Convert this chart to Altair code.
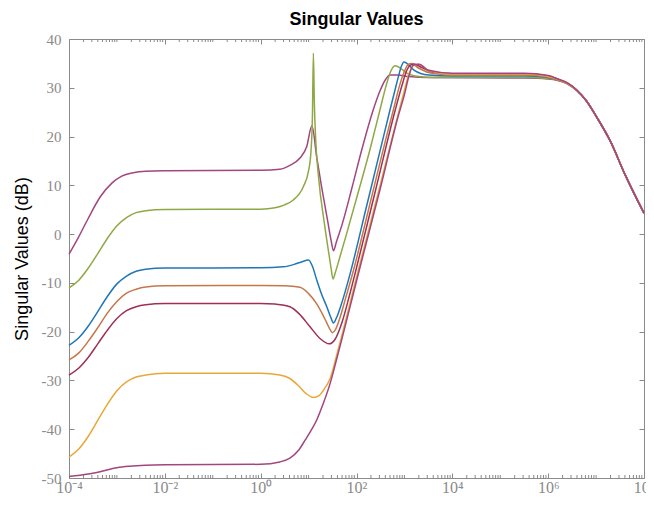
import altair as alt
import pandas as pd

A_lx = [-4.0, -3.8, -3.6, -3.35, -3.1, -2.9, -2.66, -2.4, -2.0, 0.0, 0.4, 0.61, 0.82, 0.96, 1.07,
        1.17, 1.27, 1.40, 1.47, 1.52, 1.58, 1.70, 1.90, 2.11, 2.35, 2.50, 2.60, 2.70, 2.85, 3.10,
        3.50, 5.50, 6.0, 6.2, 6.4, 6.6, 6.8, 7.0, 7.3, 7.6, 8.0]
A_db = [-4.1, -0.6, 3.2, 7.6, 10.5, 11.9, 12.6, 12.9, 13.0, 13.1, 13.3, 14.1, 15.6, 17.9, 22.2,
        15.8, 9.8, 2.6, -1.3, -3.4, -1.6, 2.0, 9.3, 17.3, 25.5, 29.6, 31.6, 32.6, 32.6, 32.3,
        32.1, 32.0, 31.8, 31.5, 30.8, 29.4, 27.3, 24.2, 19.0, 12.3, 4.3]

B_lx = [-4.0, -3.8, -3.6, -3.4, -3.2, -3.0, -2.8, -2.6, -2.4, -2.0, 0.0, 0.3, 0.5, 0.68, 0.89,
        1.0, 1.05, 1.08, 1.10, 1.12, 1.15, 1.20, 1.34, 1.42, 1.47, 1.51, 1.56, 1.65, 1.80, 2.0,
        2.28, 2.49, 2.62, 2.72, 2.81, 2.92, 3.05, 3.3, 3.6, 5.5, 6.0, 6.2, 6.4, 6.6, 6.8, 7.0,
        7.3, 7.6, 8.0]
B_db = [-11.0, -9.5, -7.0, -4.0, -0.9, 1.7, 3.4, 4.4, 4.8, 5.05, 5.1, 5.4, 6.0, 7.0, 9.7,
        13.0, 17.0, 24.0, 37.1, 27.0, 19.0, 12.5, 1.5, -3.8, -7.0, -9.2, -7.8, -4.8, 0.3, 7.3,
        17.3, 25.5, 30.5, 33.5, 34.5, 34.0, 33.0, 32.3, 32.1, 32.1, 31.9, 31.6, 30.8, 29.4, 27.3,
        24.2, 19.0, 12.3, 4.3]

C_lx = [-4.0, -3.8, -3.6, -3.4, -3.2, -3.0, -2.8, -2.6, -2.4, -2.0, 0.0, 0.47, 0.7, 0.85, 1.0,
        1.08, 1.17, 1.27, 1.38, 1.46, 1.52, 1.58, 1.68, 1.87, 2.2, 2.49, 2.70, 2.80, 2.88, 2.94,
        2.99, 3.05, 3.2, 3.5, 4.0, 5.5, 6.0, 6.2, 6.4, 6.6, 6.8, 7.0, 7.3, 7.6, 8.0]
C_db = [-22.8, -21.3, -18.9, -15.9, -12.8, -10.2, -8.6, -7.6, -7.2, -6.95, -6.9, -6.7, -6.2, -5.7, -5.3,
        -6.6, -9.4, -12.3, -14.9, -17.0, -18.2, -17.2, -14.5, -8.0, 5.3, 17.0, 25.5, 29.4, 32.5, 34.5,
        35.3, 35.0, 33.6, 32.6, 32.4, 32.4, 32.1, 31.7, 30.9, 29.5, 27.3, 24.2, 19.0, 12.3, 4.3]

D_lx = [-4.0, -3.8, -3.6, -3.4, -3.2, -3.0, -2.8, -2.6, -2.4, -2.0, 0.0, 0.5, 0.82, 1.0, 1.17,
        1.30, 1.38, 1.45, 1.50, 1.56, 1.65, 1.78, 1.94, 2.3, 2.6, 2.77, 2.9, 3.0, 3.08, 3.15,
        3.3, 3.6, 4.0, 5.5, 6.0, 6.2, 6.4, 6.6, 6.8, 7.0, 7.3, 7.6, 8.0]
D_db = [-25.8, -24.4, -22.0, -19.2, -16.2, -13.8, -12.1, -11.3, -10.85, -10.6, -10.55, -10.6, -10.9, -12.2, -14.3,
        -16.6, -18.2, -19.6, -20.2, -19.6, -17.3, -12.9, -7.3, 7.0, 19.0, 25.5, 30.5, 33.4, 34.8, 35.0,
        34.0, 32.9, 32.6, 32.6, 32.2, 31.7, 30.9, 29.5, 27.3, 24.2, 19.0, 12.3, 4.3]

E_lx = [-4.0, -3.8, -3.6, -3.4, -3.2, -3.0, -2.8, -2.6, -2.4, -2.0, 0.0, 0.3, 0.61, 0.8, 1.03,
        1.25, 1.43, 1.55, 1.7, 1.85, 1.99, 2.4, 2.81, 2.95, 3.05, 3.12, 3.2, 3.35, 3.6, 4.0,
        5.5, 6.0, 6.2, 6.4, 6.6, 6.8, 7.0, 7.3, 7.6, 8.0]
E_db = [-28.9, -27.5, -25.3, -22.5, -19.7, -17.3, -15.7, -14.9, -14.5, -14.25, -14.2, -14.35, -14.9, -16.3, -19.0,
        -21.5, -22.5, -21.6, -18.0, -12.7, -7.3, 9.1, 25.5, 30.5, 33.6, 34.6, 34.9, 34.2, 33.2, 32.9,
        32.9, 32.4, 31.8, 31.0, 29.5, 27.3, 24.2, 19.0, 12.3, 4.3]

F_lx = [-4.0, -3.8, -3.6, -3.4, -3.2, -3.0, -2.8, -2.6, -2.4, -2.0, 0.0, 0.4, 0.61, 0.8, 0.95,
        1.10, 1.22, 1.31, 1.45, 1.6, 2.04, 2.5, 2.88, 3.0, 3.1, 3.2, 3.3, 3.5, 4.0, 5.5,
        6.0, 6.2, 6.4, 6.6, 6.8, 7.0, 7.3, 7.6, 8.0]
F_db = [-45.7, -44.1, -41.5, -38.2, -34.9, -32.1, -30.3, -29.3, -28.9, -28.55, -28.5, -28.9, -29.6, -31.2, -32.7,
        -33.5, -33.1, -32.0, -29.6, -24.3, -7.3, 10.3, 25.0, 29.5, 33.0, 34.6, 34.8, 33.6, 32.8, 32.8,
        32.3, 31.7, 30.9, 29.5, 27.3, 24.2, 19.0, 12.3, 4.3]

G_lx = [-4.0, -3.6, -3.35, -3.0, -2.73, -2.4, -2.0, 0.0, 0.4, 0.61, 0.8, 0.93, 1.05, 1.17, 1.3,
        1.45, 1.6, 2.06, 2.5, 2.86, 3.0, 3.1, 3.18, 3.3, 3.5, 4.0, 5.5, 6.0, 6.2, 6.4,
        6.6, 6.8, 7.0, 7.3, 7.6, 8.0]
G_db = [-49.7, -49.2, -48.7, -47.9, -47.6, -47.4, -47.3, -47.2, -46.7, -45.9, -44.2, -42.2, -40.3, -38.1, -34.9,
        -30.6, -25.1, -7.3, 9.5, 23.8, 28.6, 32.6, 34.6, 34.8, 33.6, 33.0, 33.0, 32.5, 31.8, 31.0,
        29.5, 27.3, 24.2, 19.0, 12.3, 4.3]

curve_names = ["A", "B", "C", "D", "E", "F", "G"]
curve_colors = ["#a2467f", "#8fa845", "#1f77b8", "#c4784a", "#9e2f55", "#e8a838", "#a2467f"]
curve_data = [(A_lx, A_db), (B_lx, B_db), (C_lx, C_db), (D_lx, D_db),
              (E_lx, E_db), (F_lx, F_db), (G_lx, G_db)]

major_x = [1e-4, 1e-2, 1e0, 1e2, 1e4, 1e6, 1e8]
y_ticks = [-50, -40, -30, -20, -10, 0, 10, 20, 30, 40]

rows = []
for name, (lx, db) in zip(curve_names, curve_data):
    for e, v in zip(lx, db):
        rows.append({"curve": name, "freq": 10 ** e, "db": v})
df = pd.DataFrame(rows)

minor = []
for k in range(-4, 8):
    if k % 2 != 0:
        minor.append(10.0 ** k)
    for m in range(2, 10):
        minor.append(m * 10.0 ** k)
minor_df = pd.DataFrame({"v": minor})

W, H = 575, 439
gray = "#8a8a8a"
xs = alt.Scale(type="log", domain=[1e-4, 1e8], nice=False)
ys = alt.Scale(domain=[-50, 40], nice=False, zero=False)

sup = "['⁰','¹','²','³','⁴','⁵','⁶','⁷','⁸','⁹']"
label_expr = ("'10' + (datum.value < 1 ? '⁻' : '') + " + sup +
              "[abs(round(log(datum.value) / LN10))]")

lines = alt.Chart(df).mark_line(strokeWidth=1.5, interpolate="monotone").encode(
    x=alt.X("freq:Q", scale=xs, axis=alt.Axis(
        orient="bottom", values=major_x, offset=-5, domain=False, grid=False,
        tickSize=5, tickColor=gray, labelExpr=label_expr, labelFont="Liberation Serif",
        labelFontSize=16, labelColor=gray, labelPadding=1, labelFlush=False,
        labelOverlap=False, title=None)),
    y=alt.Y("db:Q", scale=ys, axis=alt.Axis(
        orient="left", values=y_ticks, offset=-5, domain=False, grid=False,
        tickSize=5, tickColor=gray, labelExpr="toString(datum.value)",
        labelFont="Liberation Serif", labelFontSize=15, labelColor=gray,
        labelPadding=8, labelOverlap=False, title="Singular Values (dB)",
        titleFont="Liberation Sans", titleFontSize=18, titleFontWeight="normal",
        titleColor="black", titlePadding=10)),
    color=alt.Color("curve:N", scale=alt.Scale(domain=curve_names, range=curve_colors), legend=None),
)

ghost = alt.Chart(df).mark_line(strokeOpacity=0).encode(
    x=alt.X("freq:Q", scale=xs, axis=alt.Axis(
        orient="top", values=major_x, offset=-5, domain=False, grid=False,
        tickSize=5, tickColor=gray, labels=False, title=None)),
    y=alt.Y("db:Q", scale=ys, axis=alt.Axis(
        orient="right", values=y_ticks, offset=-5, domain=False, grid=False,
        tickSize=5, tickColor=gray, labels=False, title=None)),
    detail="curve:N",
)

minor_bottom = alt.Chart(minor_df).mark_rule(color=gray, strokeWidth=1).encode(
    x=alt.X("v:Q", scale=xs, axis=None),
    y=alt.value(H), y2=alt.value(H - 3),
)
minor_top = alt.Chart(minor_df).mark_rule(color=gray, strokeWidth=1).encode(
    x=alt.X("v:Q", scale=xs, axis=None),
    y=alt.value(0), y2=alt.value(3),
)

chart = alt.layer(ghost, minor_bottom, minor_top, lines).resolve_axis(
    x="independent", y="independent"
).properties(
    width=W, height=H,
    title=alt.TitleParams("Singular Values", font="Liberation Sans", fontSize=18,
                          fontWeight="bold", color="black", anchor="middle", offset=3),
    padding={"left": 61, "top": 31, "right": 2, "bottom": 19},
    autosize=alt.AutoSizeParams(type="none"),
).configure_view(stroke=gray, strokeWidth=1)

chart.save("out.html", embed_options={"renderer": "svg", "actions": False})
